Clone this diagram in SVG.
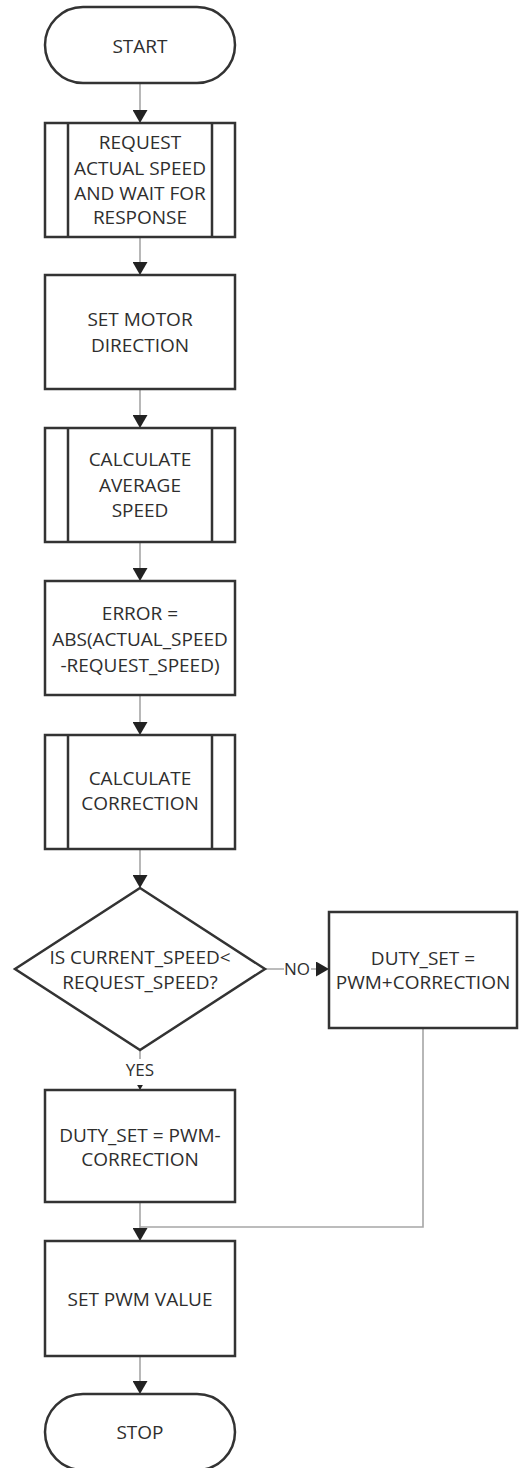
<svg xmlns="http://www.w3.org/2000/svg" width="530" height="1468" viewBox="0 0 530 1468">
  <style>
    .shape { fill: #ffffff; stroke: #333333; stroke-width: 2.5; }
    .inner { fill: none; stroke: #333333; stroke-width: 2.5; }
    .label { font-family: "Open Sans", "Noto Sans", sans-serif; font-size: 19px; fill: #2e2e2e; text-anchor: middle; }
    .edge { fill: none; stroke: #a6a6a6; stroke-width: 1.6; }
    .edge-label { font-family: "Open Sans", "Noto Sans", sans-serif; font-size: 17px; fill: #2e2e2e; text-anchor: middle; }
  </style>
  <defs>
    <marker id="arrow" markerWidth="13" markerHeight="15" refX="13" refY="7.5" orient="auto" markerUnits="userSpaceOnUse">
      <path d="M0,0 L13,7.5 L0,15 Z" fill="#222222"/>
    </marker>
  </defs>
  <rect width="530" height="1468" fill="#ffffff"/>

  <!-- connectors -->
  <g id="connectors">
    <line class="edge" x1="140" y1="83" x2="140" y2="123" marker-end="url(#arrow)"/>
    <line class="edge" x1="140" y1="237" x2="140" y2="275" marker-end="url(#arrow)"/>
    <line class="edge" x1="140" y1="389" x2="140" y2="428" marker-end="url(#arrow)"/>
    <line class="edge" x1="140" y1="542" x2="140" y2="581" marker-end="url(#arrow)"/>
    <line class="edge" x1="140" y1="695" x2="140" y2="735" marker-end="url(#arrow)"/>
    <line class="edge" x1="140" y1="849" x2="140" y2="888" marker-end="url(#arrow)"/>
    <line class="edge" x1="265" y1="969" x2="329" y2="969" marker-end="url(#arrow)"/>
    <line class="edge" x1="140" y1="1050" x2="140" y2="1090" marker-end="url(#arrow)"/>
    <line class="edge" x1="140" y1="1202" x2="140" y2="1241" marker-end="url(#arrow)"/>
    <polyline class="edge" points="423,1028 423,1227 140,1227"/>
    <line class="edge" x1="140" y1="1356" x2="140" y2="1394" marker-end="url(#arrow)"/>
    <g id="label-no">
      <rect x="284" y="958" width="27" height="22" fill="#ffffff"/>
      <text class="edge-label" x="297" y="975">NO</text>
    </g>
    <g id="label-yes">
      <rect x="122" y="1059" width="36" height="26" fill="#ffffff"/>
      <text class="edge-label" x="140" y="1076">YES</text>
    </g>
  </g>

  <g id="start">
    <rect class="shape" x="45" y="7" width="190" height="76" rx="38" ry="38"/>
    <text class="label" x="140" y="53">START</text>
  </g>

  <g id="request-speed">
    <rect class="shape" x="45" y="123" width="190" height="114"/>
    <line class="inner" x1="68" y1="123" x2="68" y2="237"/>
    <line class="inner" x1="212" y1="123" x2="212" y2="237"/>
    <text class="label" x="140" y="149">REQUEST</text>
    <text class="label" x="140" y="175">ACTUAL SPEED</text>
    <text class="label" x="140" y="200">AND WAIT FOR</text>
    <text class="label" x="140" y="224">RESPONSE</text>
  </g>

  <g id="motor-direction">
    <rect class="shape" x="45" y="275" width="190" height="114"/>
    <text class="label" x="140" y="326">SET MOTOR</text>
    <text class="label" x="140" y="352">DIRECTION</text>
  </g>

  <g id="average-speed">
    <rect class="shape" x="45" y="428" width="190" height="114"/>
    <line class="inner" x1="68" y1="428" x2="68" y2="542"/>
    <line class="inner" x1="212" y1="428" x2="212" y2="542"/>
    <text class="label" x="140" y="466">CALCULATE</text>
    <text class="label" x="140" y="492">AVERAGE</text>
    <text class="label" x="140" y="517">SPEED</text>
  </g>

  <g id="error">
    <rect class="shape" x="45" y="581" width="190" height="114"/>
    <text class="label" x="140" y="620">ERROR =</text>
    <text class="label" x="140" y="646">ABS(ACTUAL_SPEED</text>
    <text class="label" x="140" y="672">-REQUEST_SPEED)</text>
  </g>

  <g id="correction">
    <rect class="shape" x="45" y="735" width="190" height="114"/>
    <line class="inner" x1="68" y1="735" x2="68" y2="849"/>
    <line class="inner" x1="212" y1="735" x2="212" y2="849"/>
    <text class="label" x="140" y="785">CALCULATE</text>
    <text class="label" x="140" y="810">CORRECTION</text>
  </g>

  <g id="decision">
    <polygon class="shape" points="140,888 265,969 140,1050 15,969"/>
    <text class="label" x="140" y="964">IS CURRENT_SPEED&lt;</text>
    <text class="label" x="140" y="989">REQUEST_SPEED?</text>
  </g>

  <g id="duty-plus">
    <rect class="shape" x="329" y="912" width="188" height="116"/>
    <text class="label" x="423" y="965">DUTY_SET =</text>
    <text class="label" x="423" y="989">PWM+CORRECTION</text>
  </g>

  <g id="duty-minus">
    <rect class="shape" x="45" y="1090" width="190" height="112"/>
    <text class="label" x="140" y="1142">DUTY_SET = PWM-</text>
    <text class="label" x="140" y="1166">CORRECTION</text>
  </g>

  <g id="set-pwm">
    <rect class="shape" x="45" y="1241" width="190" height="115"/>
    <text class="label" x="140" y="1306">SET PWM VALUE</text>
  </g>

  <g id="stop">
    <rect class="shape" x="45" y="1394" width="190" height="76" rx="38" ry="38"/>
    <text class="label" x="140" y="1439">STOP</text>
  </g>
</svg>
